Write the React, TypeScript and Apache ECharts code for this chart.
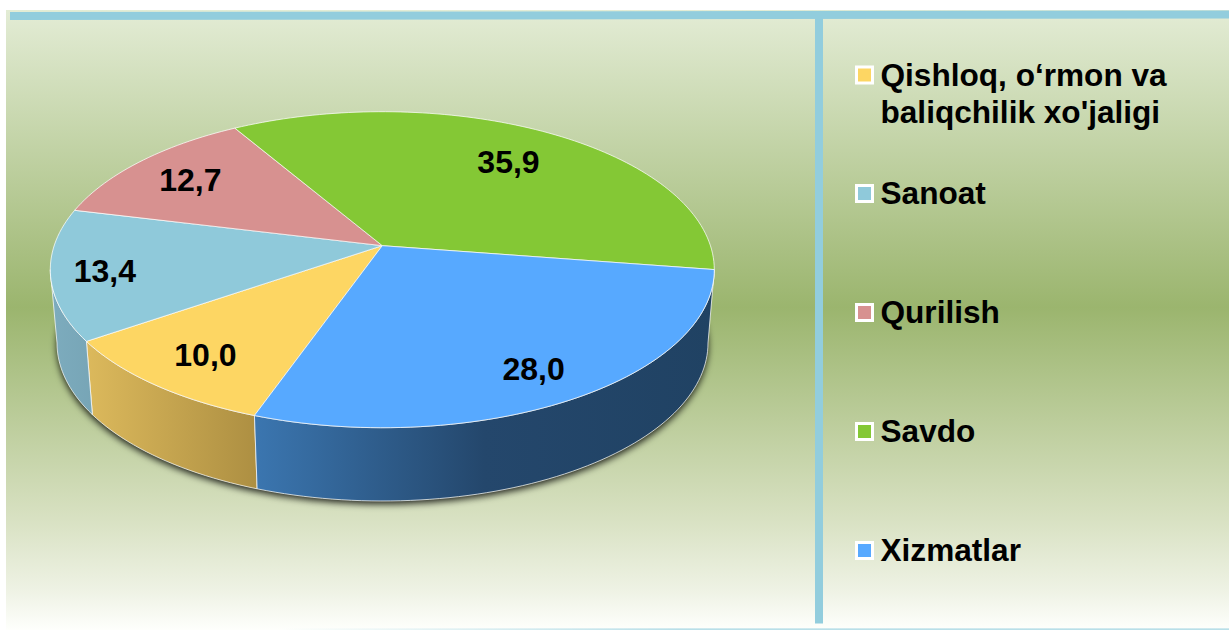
import React, { useEffect, useRef } from "react";
import * as echarts from "echarts";

const categories = ["Qishloq, o‘rmon va\nbaliqchilik xo'jaligi", "Sanoat", "Qurilish", "Savdo", "Xizmatlar"];
const values = [10.0, 13.4, 12.7, 35.9, 28.0];
const valueLabels = ["10,0", "13,4", "12,7", "35,9", "28,0"];
const topColors = ["#FDD663", "#8FC9DA", "#D79190", "#84C835", "#57A9FF"];
const wallStops: [string, string][] = [
  ["#DCB95C", "#AD8F42"],
  ["#7DACBE", "#77A5B6"],
  ["#A86F6E", "#A86F6E"],
  ["#67A02A", "#67A02A"],
  ["#3B76B0", "#204263"],
];
const labelRadii = [0.8, 0.84, 0.78, 0.73, 0.82];
const labelTurns = [0, 0, 0, 1, 0.8];

const FONT = '"Liberation Sans", Arial, sans-serif';
const START_ANGLE = 109.5;
const TILT = -0.152;
const TOP = { cx: 382.3, cy: 269.7, rx: 332, ry: 158 };
const BOTTOM = { cx: 382.5, cy: 343, rx: 325.5, ry: 158 };
const EDGE = "rgba(255,255,255,0.72)";
// The wall only shows between these disc angles: where the tilted rim is widest.
const WALL_FROM = (Math.asin(-TILT) * 180) / Math.PI;
const WALL_TO = 180 - WALL_FROM;

// Perspective map of a point of the unit disc onto the tilted disc.
function project(u: number, v: number) {
  const d = 1 + TILT * v;
  return [(u * Math.sqrt(1 - TILT * TILT)) / d, (v + TILT) / d];
}
function onEllipse(e: typeof TOP, u: number, v: number) {
  const [a, b] = project(u, v);
  return [e.cx + e.rx * a, e.cy + e.ry * b];
}
function rim(e: typeof TOP, from: number, to: number) {
  const pts: number[][] = [];
  const n = Math.max(2, Math.ceil((to - from) / 1.5));
  for (let i = 0; i <= n; i++) {
    const t = ((from + ((to - from) * i) / n) * Math.PI) / 180;
    pts.push(onEllipse(e, Math.cos(t), Math.sin(t)));
  }
  return pts;
}
function angles(start: number, value: number) {
  const from = START_ANGLE + (start * 360) / 100;
  return [from, from + (value * 360) / 100];
}
function visibleWall(from: number, to: number) {
  const shift = from >= 360 - 1e-6 ? 360 : 0;
  const a = Math.max(from - shift, WALL_FROM);
  const b = Math.min(to - shift, WALL_TO);
  return b > a ? [a, b] : null;
}

const sliceData = values.map((v, i) => [v, values.slice(0, i).reduce((a, b) => a + b, 0), i]);

function App() {
  const ref = useRef<HTMLDivElement>(null);
  useEffect(() => {
    if (!ref.current) return;
    const chart = echarts.init(ref.current, undefined, { renderer: "svg" });
    const legendY = [75, 193.5, 312.5, 431.5, 550.5];
    const legendItems: any[] = [];
    categories.forEach((c, i) => {
      legendItems.push({
        type: "rect",
        z: 5,
        shape: { x: 856.5, y: legendY[i] - 8, width: 16, height: 16 },
        style: { fill: topColors[i], stroke: "#FFFFFF", lineWidth: 3 },
      });
      legendItems.push({
        type: "text",
        z: 5,
        x: 880.5,
        y: legendY[i] - (i === 0 ? 18 : 19),
        style: { text: c, font: `bold 31.6px ${FONT}`, fill: "#000000", lineHeight: 36.5, textVerticalAlign: "top" },
      });
    });
    chart.setOption({
      animation: false,
      backgroundColor: "#FFFFFF",
      graphic: [
        {
          type: "rect",
          z: 0,
          shape: { x: 6, y: 10, width: 1223, height: 620 },
          style: {
            fill: {
              type: "linear",
              x: 0,
              y: 0,
              x2: 0,
              y2: 1,
              colorStops: [
                { offset: 0, color: "#E3ECD5" },
                { offset: 0.48, color: "#9BB56E" },
                { offset: 0.82, color: "#D8E1C2" },
                { offset: 0.935, color: "#EEF2E4" },
                { offset: 1, color: "#FEFFFC" },
              ],
            },
          },
        },
        {
          type: "polygon",
          z: 1,
          shape: { points: [[10, 12], [1229, 10.5], [1229, 18.5], [10, 20]] },
          style: { fill: "#92CDDD" },
        },
        {
          type: "rect",
          z: 1,
          shape: { x: 815, y: 18, width: 8, height: 605.5 },
          style: { fill: "#92CDDD" },
        },
        {
          type: "rect",
          z: 1,
          shape: { x: 280, y: 628.5, width: 949, height: 1.2 },
          style: {
            fill: {
              type: "linear",
              x: 0,
              y: 0,
              x2: 1,
              y2: 0,
              colorStops: [
                { offset: 0, color: "rgba(146,205,221,0)" },
                { offset: 0.42, color: "rgba(146,205,221,0.85)" },
                { offset: 1, color: "rgba(146,205,221,0.85)" },
              ],
            },
          },
        },
        ...legendItems,
      ],
      series: [
        {
          type: "custom",
          coordinateSystem: "none",
          z: 2,
          silent: true,
          data: [[0]],
          renderItem: () => ({
            type: "polygon",
            shape: { points: rim(BOTTOM, 0, 360) },
            style: {
              fill: "#3A4A30",
              shadowBlur: 7,
              shadowColor: "rgba(0,0,0,0.85)",
              shadowOffsetY: 3,
            },
          }),
        },
        {
          type: "custom",
          coordinateSystem: "none",
          z: 3,
          silent: true,
          data: sliceData,
          renderItem: (_p: any, api: any) => {
            const [from, to] = angles(api.value(1), api.value(0));
            const idx = api.value(2);
            const range = visibleWall(from, to);
            if (!range) return { type: "group", children: [] };
            const points = [...rim(TOP, range[0], range[1]), ...rim(BOTTOM, range[0], range[1]).reverse()];
            return {
              type: "polygon",
              shape: { points },
              style: {
                fill: {
                  type: "linear",
                  x: 0,
                  y: 0,
                  x2: 1,
                  y2: 0,
                  colorStops:
                    idx === 4
                      ? [
                          { offset: 0, color: wallStops[idx][0] },
                          { offset: 0.5, color: "#24476C" },
                          { offset: 1, color: wallStops[idx][1] },
                        ]
                      : [
                          { offset: 0, color: wallStops[idx][0] },
                          { offset: 1, color: wallStops[idx][1] },
                        ],
                },
                stroke: EDGE,
                lineWidth: 1,
              },
            };
          },
        },
        {
          type: "custom",
          coordinateSystem: "none",
          z: 4,
          silent: true,
          data: sliceData,
          renderItem: (_p: any, api: any) => {
            const [from, to] = angles(api.value(1), api.value(0));
            const idx = api.value(2);
            const apex = onEllipse(TOP, 0, 0);
            const mid = (((from + to) / 2 + labelTurns[idx]) * Math.PI) / 180;
            const r = labelRadii[idx];
            const pos = onEllipse(TOP, r * Math.cos(mid), r * Math.sin(mid));
            return {
              type: "group",
              children: [
                {
                  type: "polygon",
                  shape: { points: [apex, ...rim(TOP, from, to)] },
                  style: { fill: topColors[idx], stroke: EDGE, lineWidth: 1 },
                },
                {
                  type: "text",
                  z2: 10,
                  x: pos[0],
                  y: pos[1] + 1,
                  style: {
                    text: valueLabels[idx],
                    font: `bold 32px ${FONT}`,
                    fill: "#000000",
                    textAlign: "center",
                    textVerticalAlign: "middle",
                  },
                },
              ],
            };
          },
        },
      ],
    });
    return () => chart.dispose();
  }, []);
  return <div ref={ref} style={{ position: "fixed", left: 0, top: 0, width: 1229, height: 630 }} />;
}

export default App;
